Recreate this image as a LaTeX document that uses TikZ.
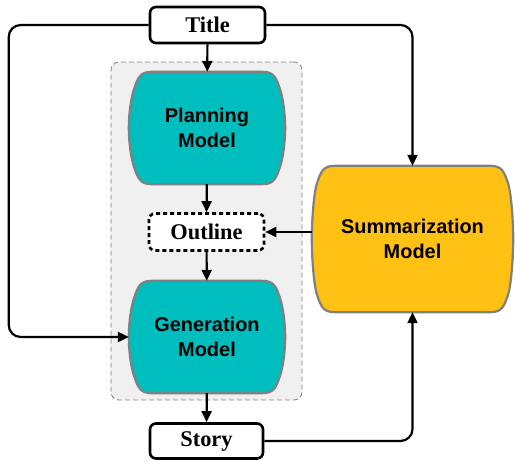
\documentclass[tikz,border=0pt]{standalone}
\usepackage{fontspec}
\setmainfont{Liberation Serif}
\setsansfont{Liberation Sans}
\usetikzlibrary{arrows.meta,backgrounds}
\definecolor{modelteal}{RGB}{0,190,190}
\definecolor{modelamber}{RGB}{255,193,20}
\definecolor{panelgray}{RGB}{240,240,240}

\begin{document}
\begin{tikzpicture}[
    x=1bp, y=-1bp,
    io/.style={draw, line width=2.6bp, rounded corners=6bp, fill=white, minimum width=115bp, minimum height=36bp, inner sep=0pt, font=\fontsize{22.5}{24}\selectfont\bfseries},
    io_dash/.style={io, dash pattern=on 4bp off 3bp},
    model/.style={minimum width=156bp, minimum height=112bp, align=center, inner sep=0pt, font=\fontsize{20}{25}\selectfont\sffamily\bfseries},
    rim/.style={draw=gray, line width=2.2bp},
    panel/.style={draw=gray, dash pattern=on 5bp off 3bp, fill=panelgray, rounded corners=8bp, line width=0.8bp},
    flow/.style={-{Triangle[length=11bp,width=10bp]}, line width=2.2bp, rounded corners=12bp}
]
    \useasboundingbox (0,0) rectangle (515,461);
    % Entrada e saida
    \node[io] (title) at (207.5,25) {Title};
    \node[io, minimum width=113bp, minimum height=35bp] (story) at (206.5,441) {Story};
    \node[io_dash, minimum height=37bp] (outline) at (206.5,232) {Outline};
    % Modelos
    \node[model] (plan) at (207,128) {Planning\\Model};
    \node[model] (gen) at (207,337) {Generation\\Model};
    \node[model, minimum width=201bp, minimum height=146bp] (summ) at (412.5,239) {Summarization\\Model};
    % Fundo e contornos
    \begin{scope}[on background layer]
        \node[panel, minimum width=191bp, minimum height=338bp] (panel) at (206.5,231) {};
        \foreach \m/\c/\v in {plan/modelteal/15, gen/modelteal/15, summ/modelamber/22}
            \draw[rim, fill=\c] ([shift={(23,0)}]\m.north west) -- ([shift={(-23,0)}]\m.north east)
                .. controls ([shift={(-11,0)}]\m.north east) and ([shift={(-9,6)}]\m.north east) .. ([shift={(-5,18)}]\m.north east)
                .. controls ([shift={(-2.5,25.5)}]\m.north east) and ([shift={(0,-\v)}]\m.east) .. (\m.east)
                .. controls ([shift={(0,\v)}]\m.east) and ([shift={(-2.5,-25.5)}]\m.south east) .. ([shift={(-5,-18)}]\m.south east)
                .. controls ([shift={(-9,-6)}]\m.south east) and ([shift={(-11,0)}]\m.south east) .. ([shift={(-23,0)}]\m.south east)
                -- ([shift={(23,0)}]\m.south west)
                .. controls ([shift={(11,0)}]\m.south west) and ([shift={(9,-6)}]\m.south west) .. ([shift={(5,-18)}]\m.south west)
                .. controls ([shift={(2.5,-25.5)}]\m.south west) and ([shift={(0,\v)}]\m.west) .. (\m.west)
                .. controls ([shift={(0,-\v)}]\m.west) and ([shift={(2.5,25.5)}]\m.north west) .. ([shift={(5,18)}]\m.north west)
                .. controls ([shift={(9,6)}]\m.north west) and ([shift={(11,0)}]\m.north west) .. cycle;
    \end{scope}
    % Setas
    \draw[flow] (title) -- (plan);
    \draw[flow] (plan) -- (outline);
    \draw[flow] (outline) -- (gen);
    \draw[flow] (gen) -- (story);
    \draw[flow] (title.west) -- ++(-140,0) |- (gen.west);
    \draw[flow] (title.east) -| (summ.north);
    \draw[flow] (story.east) -| (summ.south);
    \draw[flow] (summ.west |- outline.east) -- (outline.east);
\end{tikzpicture}
\end{document}
